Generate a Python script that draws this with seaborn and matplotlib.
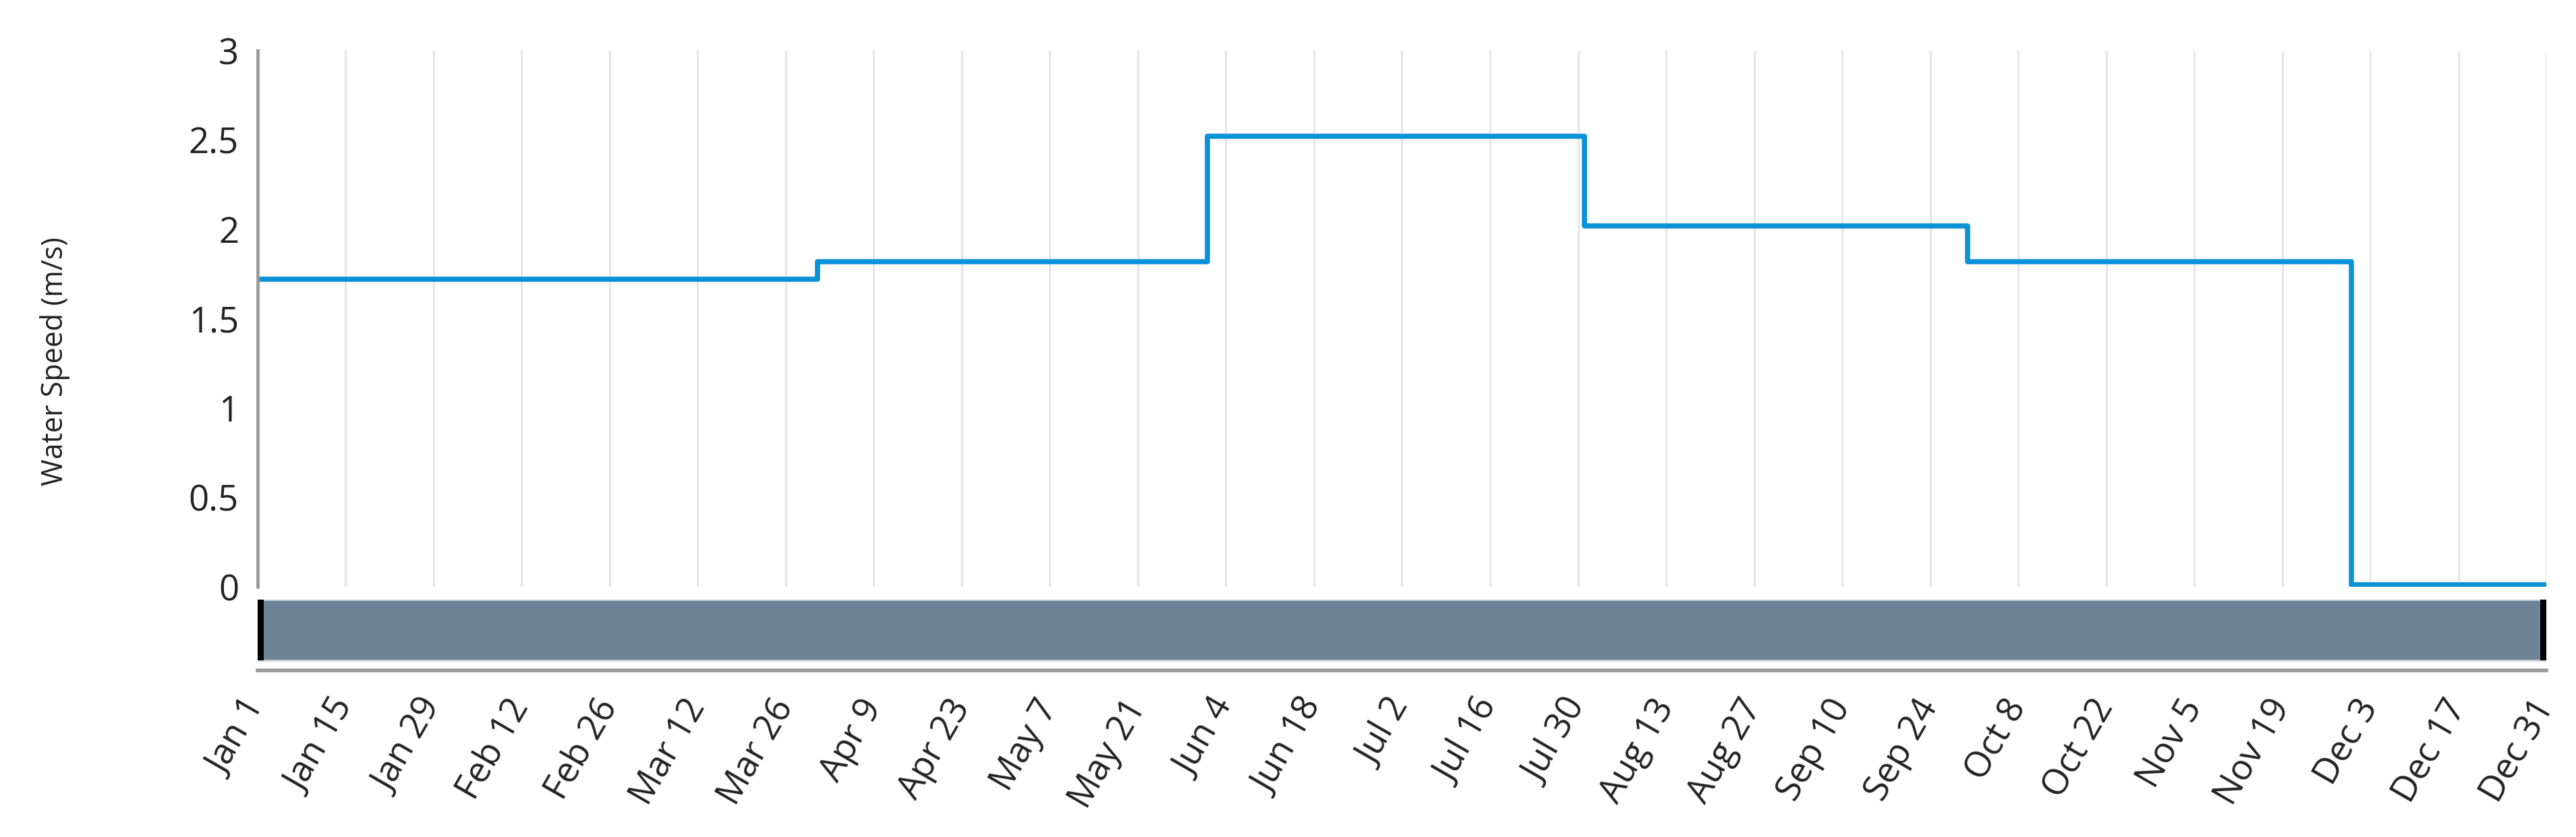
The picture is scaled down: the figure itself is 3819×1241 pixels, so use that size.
import matplotlib
matplotlib.use("Agg")
import matplotlib.pyplot as plt
from matplotlib.patches import Rectangle
import pandas as pd
import seaborn as sns

# ---- data ----
step_dates = ["2023-01-01", "2023-03-31", "2023-06-01", "2023-07-31",
              "2023-09-30", "2023-11-30", "2023-12-31"]
water_speed = [1.72, 1.82, 2.52, 2.02, 1.82, 0.01, 0.01]

tick_dates = ["2023-01-01", "2023-01-15", "2023-01-29", "2023-02-12", "2023-02-26",
              "2023-03-12", "2023-03-26", "2023-04-09", "2023-04-23", "2023-05-07",
              "2023-05-21", "2023-06-04", "2023-06-18", "2023-07-02", "2023-07-16",
              "2023-07-30", "2023-08-13", "2023-08-27", "2023-09-10", "2023-09-24",
              "2023-10-08", "2023-10-22", "2023-11-05", "2023-11-19", "2023-12-03",
              "2023-12-17", "2023-12-31"]
tick_labels = ["Jan 1", "Jan 15", "Jan 29", "Feb 12", "Feb 26", "Mar 12", "Mar 26",
               "Apr 9", "Apr 23", "May 7", "May 21", "Jun 4", "Jun 18", "Jul 2",
               "Jul 16", "Jul 30", "Aug 13", "Aug 27", "Sep 10", "Sep 24", "Oct 8",
               "Oct 22", "Nov 5", "Nov 19", "Dec 3", "Dec 17", "Dec 31"]
y_ticks = [0, 0.5, 1, 1.5, 2, 2.5, 3]
y_labels = ["0", "0.5", "1", "1.5", "2", "2.5", "3"]

df = pd.DataFrame({"date": pd.to_datetime(step_dates), "speed": water_speed})
ticks = pd.to_datetime(tick_dates)
x0, x1 = ticks[0], ticks[-1]

sns.set_theme(style="white")
plt.rcParams["font.family"] = ["Open Sans", "DejaVu Sans"]

fig = plt.figure(figsize=(38.19, 12.41), dpi=100)
ax = fig.add_axes([0.100, 0.299, 0.8885, 0.6406])
axb = fig.add_axes([0.100, 0.199, 0.8885, 0.0847])

line_color = "#0A92D8"
sns.lineplot(data=df, x="date", y="speed", ax=ax, color=line_color,
             linewidth=5.5, drawstyle="steps-post", legend=False)

ax.set_xlim(x0, x1)
ax.set_ylim(0, 3)
ax.set_xticks(ticks)
ax.set_xticklabels([])
ax.tick_params(axis="x", length=0)
ax.grid(axis="x", color="#E6E6E6", linewidth=2.2)
ax.grid(axis="y", visible=False)
ax.set_axisbelow(True)
ax.set_yticks(y_ticks)
ax.set_yticklabels(y_labels, fontsize=38, color="#222222")
ax.tick_params(axis="y", length=0, pad=20)
for s in ["top", "right", "bottom"]:
    ax.spines[s].set_visible(False)
ax.spines["left"].set_color("#9A9A9A")
ax.spines["left"].set_linewidth(3.5)
ax.set_xlabel("")
ax.set_ylabel("Water Speed (m/s)", fontsize=31, color="#222222")
ax.yaxis.set_label_coords(-0.082, 0.42)

# range-slider style bar
axb.set_xlim(x0, x1)
axb.set_ylim(0, 1)
axb.add_patch(Rectangle((0, 0.14), 1, 0.86, transform=axb.transAxes,
                        facecolor="#6E8396", edgecolor="#C8D0D8", linewidth=2))
axb.add_patch(Rectangle((0, 0.14), 0.0028, 0.86, transform=axb.transAxes,
                        facecolor="black", edgecolor="none"))
axb.add_patch(Rectangle((0.9972, 0.14), 0.0028, 0.86, transform=axb.transAxes,
                        facecolor="black", edgecolor="none"))
axb.set_yticks([])
axb.set_xticks(ticks)
axb.set_xticklabels(tick_labels, rotation=60, ha="right", va="center",
                    rotation_mode="anchor", fontsize=38, color="#222222")
axb.tick_params(axis="x", length=0, pad=34)
for s in ["top", "right", "left"]:
    axb.spines[s].set_visible(False)
axb.spines["bottom"].set_color("#9A9A9A")
axb.spines["bottom"].set_linewidth(4)
axb.set_facecolor("none")

fig.savefig("out.png", dpi=100)
